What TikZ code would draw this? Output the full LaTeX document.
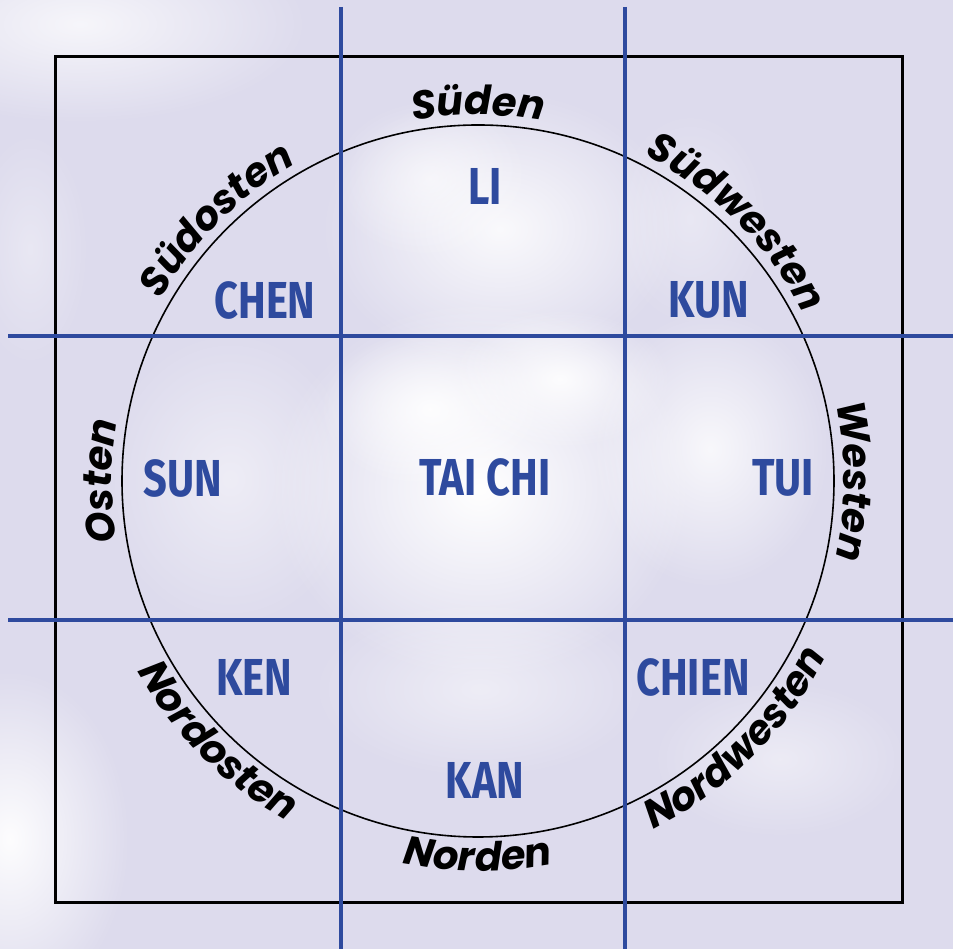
\documentclass[tikz,border=0pt]{standalone}
\usepackage{fontspec}
\usetikzlibrary{decorations.text,fadings}
\newfontfamily\dirfont{Poppins}
\newfontfamily\trifont{Fira Sans}[FakeStretch=0.8]
\definecolor{sky}{RGB}{221,219,237}
\definecolor{myblue}{RGB}{46,74,158}
\tikzfading[name=fuzzy, inner color=transparent!0, outer color=transparent!100]
\tikzset{
  blueline/.style={draw=myblue, line width=4pt},
  trigram/.style={text=myblue, font=\trifont\bfseries\fontsize{52}{52}\selectfont, inner sep=0pt},
  dirtext/.style={decorate, decoration={text along path, text align=center,
      text={|\dirfont\bfseries\itshape\fontsize{40}{40}\selectfont|#1}}},
  cloudblob/.style={fill=white, path fading=fuzzy, fill opacity=#1},
}
\begin{document}
\begin{tikzpicture}[x=1pt,y=1pt]
\useasboundingbox (0,0) rectangle (953,949);
\fill[sky] (0,0) rectangle (953,949);
\begin{scope}
\clip (0,0) rectangle (953,949);
% clouds
\fill[cloudblob=0.75] (80,925) ellipse (230 and 100);
\fill[cloudblob=0.85] (500,720) ellipse (180 and 140);
\fill[cloudblob=0.6] (430,770) ellipse (100 and 80);
\fill[cloudblob=1] (480,460) ellipse (210 and 190);
\fill[cloudblob=0.9] (430,540) ellipse (110 and 80);
\fill[cloudblob=0.9] (560,570) ellipse (110 and 70);
\fill[cloudblob=0.8] (710,500) ellipse (120 and 140);
\fill[cloudblob=0.5] (230,470) ellipse (130 and 150);
\fill[cloudblob=0.95] (10,110) ellipse (120 and 170);
\fill[cloudblob=0.5] (480,260) ellipse (170 and 90);
\fill[cloudblob=0.45] (780,190) ellipse (130 and 80);
\fill[cloudblob=0.35] (690,730) ellipse (80 and 110);
\fill[cloudblob=0.35] (30,700) ellipse (60 and 120);
\end{scope}
% grid lines
\coordinate (v1t) at (340.5,942); \coordinate (v1b) at (340.5,0);
\coordinate (v2t) at (624.5,942); \coordinate (v2b) at (624.5,0);
\coordinate (h1l) at (8,612.5); \coordinate (h1r) at (953,612.5);
\coordinate (h2l) at (8,329); \coordinate (h2r) at (953,329);
% square and circle
\draw[line width=3pt] (55.5,46) rectangle (902.5,892);
\coordinate (C) at (478,468);
\draw[line width=1.6pt] (C) circle[radius=356];
\draw[blueline] (v1t) -- (v1b);
\draw[blueline] (v2t) -- (v2b);
\draw[blueline] (h1l) -- (h1r);
\draw[blueline] (h2l) -- (h2r);
% direction labels
\path[dirtext=Süden] (C) ++(130:366) arc[start angle=130, end angle=50, radius=366];
\path[dirtext=Südosten] (C) ++(180:366) arc[start angle=180, end angle=90, radius=366];
\path[dirtext=Südwesten] (C) ++(90:366) arc[start angle=90, end angle=0, radius=366];
\path[dirtext=Westen] (C) ++(40:366) arc[start angle=40, end angle=-40, radius=366];
\path[dirtext=Osten] (C) ++(220:366) arc[start angle=220, end angle=140, radius=366];
\path[dirtext=Nordosten] (C) ++(180:390) arc[start angle=180, end angle=270, radius=390];
\path[dirtext=Norden] (C) ++(230:390) arc[start angle=230, end angle=310, radius=390];
\path[dirtext=Nordwesten] (C) ++(270:390) arc[start angle=270, end angle=360, radius=390];
% trigram names
\node[trigram] (li) at (485,763) {LI};
\node[trigram] (chen) at (265,649) {CHEN};
\node[trigram] (kun) at (709,649) {KUN};
\node[trigram] (sun) at (183,471) {SUN};
\node[trigram] (taichi) at (485,472) {TAI CHI};
\node[trigram] (tui) at (783,471) {TUI};
\node[trigram] (ken) at (254,272) {KEN};
\node[trigram] (chien) at (693,272) {CHIEN};
\node[trigram] (kan) at (485,169) {KAN};
\end{tikzpicture}
\end{document}
